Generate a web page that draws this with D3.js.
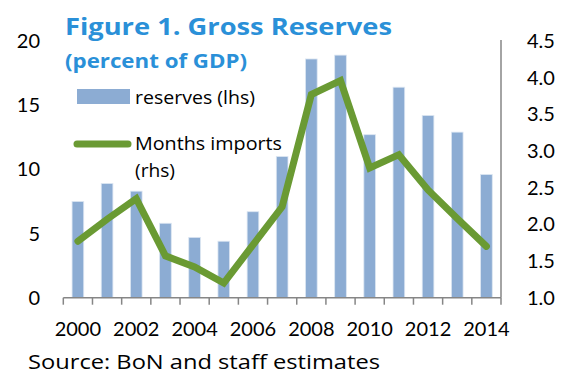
<!DOCTYPE html>
<html><head><meta charset="utf-8">
<script src="https://cdn.jsdelivr.net/npm/d3@7"></script>
<style>body{margin:0;background:#fff}svg{display:block}text{font-family:Lato,"Open Sans",sans-serif}text.w{font-family:"Open Sans",Lato,sans-serif}</style>
</head><body><svg id="c" width="564" height="374"></svg>
<script>
const years = ["2000","2001","2002","2003","2004","2005","2006","2007","2008","2009","2010","2011","2012","2013","2014"];
const reserves = [7.5, 8.9, 8.3, 5.8, 4.7, 4.4, 6.7, 11.0, 18.6, 18.9, 12.7, 16.4, 14.2, 12.9, 9.6];
const monthsImports = [1.77, 2.07, 2.35, 1.57, 1.42, 1.2, 1.72, 2.24, 3.77, 3.96, 2.77, 2.95, 2.47, 2.08, 1.7];
const leftTicks = [0, 5, 10, 15, 20];
const rightTicks = [1.0, 1.5, 2.0, 2.5, 3.0, 3.5, 4.0, 4.5];
const xLabels = ["2000","2002","2004","2006","2008","2010","2012","2014"];

const svg = d3.select("#c");
const L = 63.3, R = 501, T = 41, B = 297.7;
const x = d3.scaleBand().domain(years).range([L, R]).paddingInner(0.6).paddingOuter(0.3);
const xc = d => x(d) + x.bandwidth()/2;
const yL = d3.scaleLinear().domain([0, 20]).range([B, T]);
const yR = d3.scaleLinear().domain([1, 4.5]).range([B, T]);

// bars
svg.append("g").selectAll("rect").data(reserves).join("rect")
  .attr("x", (d,i) => x(years[i]))
  .attr("width", x.bandwidth())
  .attr("y", d => yL(d))
  .attr("height", d => B - yL(d))
  .attr("fill", "#8CACD3")
  .attr("stroke", "#DCE6F2").attr("stroke-width", 0.8);

// x axis
const xb = d3.scaleLinear().domain([0, years.length]).range([L, R]);
const gx = svg.append("g");
gx.append("line").attr("x1", L).attr("x2", R).attr("y1", B).attr("y2", B).attr("stroke", "#868686").attr("stroke-width", 1.5);
gx.selectAll("line.t").data(d3.range(years.length + 1)).join("line").attr("class","t")
  .attr("x1", d => xb(d)).attr("x2", d => xb(d)).attr("y1", B).attr("y2", B + 7)
  .attr("stroke", "#868686").attr("stroke-width", 1.5);
gx.selectAll("text").data(xLabels).join("text")
  .attr("x", d => xc(d)).attr("y", 336).attr("text-anchor", "middle")
  .attr("font-size", 20).attr("fill", "#000").text(d => d);

// right axis line
svg.append("line").attr("x1", R).attr("x2", R).attr("y1", T - 1).attr("y2", B)
  .attr("stroke", "#868686").attr("stroke-width", 1.5);

// left tick labels
svg.append("g").selectAll("text").data(leftTicks).join("text")
  .attr("x", 40).attr("y", d => yL(d) + 7).attr("text-anchor", "end")
  .attr("font-size", 20).attr("fill", "#000").text(d => d);
// right tick labels
svg.append("g").selectAll("text").data(rightTicks).join("text")
  .attr("x", 527).attr("y", d => yR(d) + 7).attr("text-anchor", "start")
  .attr("font-size", 20).attr("fill", "#000").text(d => d.toFixed(1));

// line
const line = d3.line().x((d,i) => xc(years[i])).y(d => yR(d));
svg.append("path").datum(monthsImports).attr("d", line)
  .attr("fill", "none").attr("stroke", "#6A9A33").attr("stroke-width", 7)
  .attr("stroke-linejoin", "miter").attr("stroke-linecap", "round");

function label(xp, yp, size, len, txt, bold, color) {
  return svg.append("text").attr("class", "w").attr("x", xp).attr("y", yp).attr("font-size", size)
    .attr("font-weight", bold ? "bold" : "normal").attr("fill", color || "#000")
    .attr("textLength", len).attr("lengthAdjust", "spacingAndGlyphs").text(txt);
}
// title
label(65, 35, 24, 327, "Figure 1. Gross Reserves", true, "#2A90D8");
label(65, 68, 20, 182, "(percent of GDP)", true, "#2A90D8");

// legend
svg.append("rect").attr("x", 77).attr("y", 89).attr("width", 53).attr("height", 15).attr("fill", "#8CACD3");
label(135, 104, 18, 120, "reserves (lhs)");
svg.append("line").attr("x1", 77).attr("x2", 128).attr("y1", 144).attr("y2", 144)
  .attr("stroke", "#6A9A33").attr("stroke-width", 7).attr("stroke-linecap", "round");
label(135, 150, 18, 147, "Months imports");
label(135, 177, 18, 40, "(rhs)");

// source
label(28, 369, 19.5, 352, "Source:  BoN and staff estimates");
</script></body></html>
